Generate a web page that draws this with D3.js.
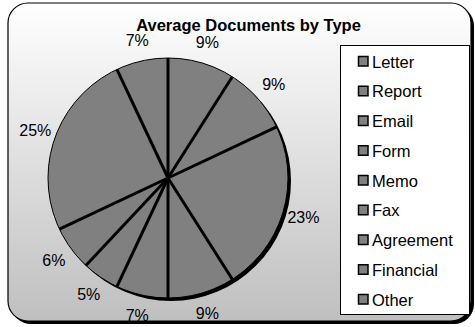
<!DOCTYPE html>
<html>
<head>
<meta charset="utf-8">
<script src="https://cdn.jsdelivr.net/npm/d3@7"></script>
<style>
  html, body { margin: 0; padding: 0; background: #ffffff; }
  svg { display: block; }
  text { font-family: "Liberation Sans", Arial, sans-serif; }
</style>
</head>
<body>
<svg id="chart" width="475" height="327"></svg>
<script>
// Document types, in drawing order (clockwise from 12 o'clock)
const categories = ["Letter", "Report", "Email", "Form", "Memo", "Fax", "Agreement", "Financial", "Other"];
// Share of documents per type, in percent
const values = [9, 9, 23, 9, 7, 5, 6, 25, 7];
const title = "Average Documents by Type";

const W = 475, H = 327;
const svg = d3.select("#chart");

// Background panel: vertical gradient with a dark drop shadow
const defs = svg.append("defs");
const grad = defs.append("linearGradient")
  .attr("id", "bg").attr("x1", 0).attr("y1", 0).attr("x2", 0).attr("y2", 1);
grad.append("stop").attr("offset", "0%").attr("stop-color", "#ffffff");
grad.append("stop").attr("offset", "100%").attr("stop-color", "#bfbfbf");

const panel = { x: 8, y: 3, w: 463, h: 318, r: 20 };
svg.append("rect")
  .attr("x", panel.x + 3).attr("y", panel.y + 3)
  .attr("width", panel.w).attr("height", panel.h)
  .attr("rx", panel.r).attr("fill", "#000");
svg.append("rect")
  .attr("x", panel.x).attr("y", panel.y)
  .attr("width", panel.w).attr("height", panel.h)
  .attr("rx", panel.r)
  .attr("fill", "url(#bg)").attr("stroke", "#000").attr("stroke-width", 1.2);

// Title
svg.append("text")
  .attr("x", 248.5).attr("y", 31)
  .attr("text-anchor", "middle")
  .attr("font-size", 16.5).attr("font-weight", "bold")
  .attr("fill", "#000")
  .text(title);

// Pie
const cx = 168, cy = 178, R = 120;
const pie = d3.pie().sort(null).value(d => d.value);
const data = categories.map((c, i) => ({ name: c, value: values[i] }));
const arcs = pie(data);
const arc = d3.arc().innerRadius(0).outerRadius(R);
const labelArc = d3.arc().innerRadius(141).outerRadius(141);

const g = svg.append("g").attr("transform", `translate(${cx},${cy})`);

// Shadow of the pie, offset down-right
g.append("circle")
  .attr("cx", 3).attr("cy", 3).attr("r", R)
  .attr("fill", "#000");

g.selectAll("path.slice")
  .data(arcs)
  .join("path")
  .attr("class", "slice")
  .attr("d", arc)
  .attr("fill", "#808080")
  .attr("stroke", "none");

// Outer rim
g.append("circle")
  .attr("r", R).attr("fill", "none")
  .attr("stroke", "#000").attr("stroke-width", 1);

// Slice separators
g.selectAll("line.sep")
  .data(arcs)
  .join("line")
  .attr("class", "sep")
  .attr("x1", 0).attr("y1", 0)
  .attr("x2", d => R * Math.sin(d.startAngle))
  .attr("y2", d => -R * Math.cos(d.startAngle))
  .attr("stroke", "#000").attr("stroke-width", 3);

// Percentage labels
g.selectAll("text.pct")
  .data(arcs)
  .join("text")
  .attr("class", "pct")
  .attr("transform", d => `translate(${labelArc.centroid(d)})`)
  .attr("text-anchor", "middle")
  .attr("dominant-baseline", "central")
  .attr("font-size", 16)
  .attr("fill", "#000")
  .text(d => d.data.value + "%");

// Legend
const leg = { x: 340, y: 45, w: 129, h: 269 };
svg.append("rect")
  .attr("x", leg.x + 0.5).attr("y", leg.y + 0.5)
  .attr("width", leg.w).attr("height", leg.h)
  .attr("fill", "#fff").attr("stroke", "#000").attr("stroke-width", 1);

const step = 29.75;
const items = svg.selectAll("g.item")
  .data(categories)
  .join("g")
  .attr("class", "item")
  .attr("transform", (d, i) => `translate(${leg.x + 18},${61 + i * step})`);
items.append("rect")
  .attr("x", 0.5).attr("y", -4.5)
  .attr("width", 9.5).attr("height", 9.5)
  .attr("fill", "#808080").attr("stroke", "#000").attr("stroke-width", 1.5);
items.append("text")
  .attr("x", 14).attr("y", 0.5)
  .attr("dominant-baseline", "central")
  .attr("font-size", 16.5)
  .attr("fill", "#000")
  .text(d => d);
</script>
</body>
</html>
